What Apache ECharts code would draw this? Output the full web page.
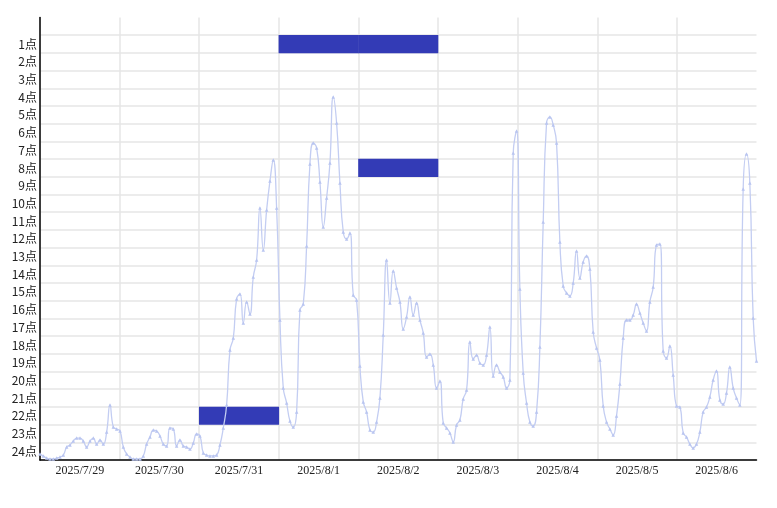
<!DOCTYPE html>
<html>
<head>
<meta charset="utf-8">
<script src="https://cdn.jsdelivr.net/npm/echarts@6/dist/echarts.min.js"></script>
<style>html,body{margin:0;padding:0;background:#fff;}#main{width:777px;height:508px;}</style>
</head>
<body>
<div id="main"></div>
<script>
// Category axes
var dates = ['2025/7/29','2025/7/30','2025/7/31','2025/8/1','2025/8/2','2025/8/3','2025/8/4','2025/8/5','2025/8/6'];
var hours = ['24点','23点','22点','21点','20点','19点','18点','17点','16点','15点','14点','13点','12点','11点','10点','9点','8点','7点','6点','5点','4点','3点','2点','1点',''];

// Highlighted cells (date, hour)
var cellDates = ['2025/8/1','2025/8/2','2025/8/2','2025/7/31'];
var cellHours = ['1点','1点','8点','22点'];
var cellValues = [1,1,1,1];

// Hourly line values, one array per day
var day0729 = [0.34,0.23,0.11,0.06,0.06,0.11,0.17,0.28,0.73,0.85,1.07,1.24,1.24,1.07,0.73,1.07,1.24,0.90,1.13,0.90,1.58,3.11,1.86,1.75];
var day0730 = [1.64,0.73,0.34,0.17,0.06,0.06,0.06,0.23,0.90,1.30,1.69,1.64,1.36,0.90,0.79,1.81,1.75,0.79,1.13,0.79,0.73,0.62,0.96,1.47];
var day0731 = [1.36,0.40,0.28,0.23,0.23,0.28,0.85,1.81,3.11,6.21,6.89,9.10,9.38,7.74,8.93,8.25,10.34,11.30,14.24,11.86,14.12,15.76,16.95,14.24];
var day0801 = [7.91,4.07,3.22,2.20,1.86,2.71,8.47,8.81,12.09,16.72,17.91,17.63,15.71,13.16,14.80,16.78,20.51,19.04,15.65,12.88,12.49,12.82,9.32,9.04];
var day0802 = [5.31,3.28,2.71,1.69,1.58,2.15,3.50,7.06,11.30,8.87,10.68,9.72,8.93,7.40,8.08,9.21,8.19,8.87,7.91,7.18,5.82,5.99,5.37,4.07];
var day0803 = [4.46,2.09,1.81,1.53,1.02,1.98,2.26,3.45,3.95,6.67,5.71,5.93,5.48,5.37,5.93,7.51,4.75,5.37,4.97,4.69,4.07,4.52,17.34,18.59];
var day0804 = [9.66,4.92,3.22,2.15,1.92,2.71,6.38,13.45,19.04,19.38,18.93,17.91,12.32,9.83,9.44,9.27,10.00,11.81,10.28,11.19,11.53,10.79,7.23,6.33];
var day0805 = [5.65,3.05,2.15,1.75,1.41,2.49,4.29,6.89,7.91,7.91,8.19,8.81,8.31,7.74,7.29,8.93,9.77,12.15,12.20,6.16,5.76,6.44,4.80,3.05];
var day0806 = [2.99,1.53,1.30,0.90,0.68,0.90,1.58,2.71,2.99,3.56,4.52,5.03,3.39,3.16,3.79,5.25,4.07,3.50,3.11,15.31,17.29,15.65,8.02,5.59];

var lineValues = [].concat(day0729, day0730, day0731, day0801, day0802, day0803, day0804, day0805, day0806);
var hourSlots = lineValues.map(function (_, i) { return String(i); });

var heatData = cellDates.map(function (d, i) {
  return [dates.indexOf(d), hours.indexOf(cellHours[i]), cellValues[i]];
});

var chart = echarts.init(document.getElementById('main'), null, {renderer: 'canvas'});
chart.setOption({
  animation: false,
  backgroundColor: '#fff',
  grid: {left: 40, right: 20.5, top: 17.5, bottom: 48, containLabel: false},
  xAxis: [{
    type: 'category',
    data: dates,
    boundaryGap: true,
    axisLine: {show: true, lineStyle: {color: '#000', width: 1.5}},
    axisTick: {show: false},
    axisLabel: {color: '#222', fontSize: 12, fontFamily: 'Liberation Serif', margin: 5, interval: 0},
    splitLine: {show: true, showMaxLine: false, lineStyle: {color: '#e6e6e6', width: 1.5}}
  }, {
    type: 'category',
    data: hourSlots,
    boundaryGap: false,
    show: false,
    position: 'bottom'
  }],
  yAxis: [{
    type: 'category',
    data: hours,
    boundaryGap: true,
    axisLine: {show: true, lineStyle: {color: '#000', width: 1.5}},
    axisTick: {show: false},
    axisLabel: {color: '#222', fontSize: 12, fontFamily: 'Noto Sans CJK SC', margin: 3, interval: 0},
    splitLine: {show: true, showMaxLine: false, lineStyle: {color: '#e6e6e6', width: 1.5}}
  }, {
    type: 'value',
    min: 0,
    max: 25,
    show: false,
    splitLine: {show: false}
  }],
  series: [{
    type: 'heatmap',
    xAxisIndex: 0,
    yAxisIndex: 0,
    data: heatData,
    itemStyle: {color: '#333bb6', borderWidth: 0}
  }, {
    type: 'line',
    xAxisIndex: 1,
    yAxisIndex: 1,
    data: lineValues,
    smooth: true,
    symbol: 'triangle',
    symbolSize: 3.5,
    showSymbol: true,
    showAllSymbol: true,
    color: '#c3cdf2',
    lineStyle: {color: '#c3cdf2', width: 1.3},
    itemStyle: {color: '#b9c5f0'},
    z: 3
  }]
});
</script>
</body>
</html>
